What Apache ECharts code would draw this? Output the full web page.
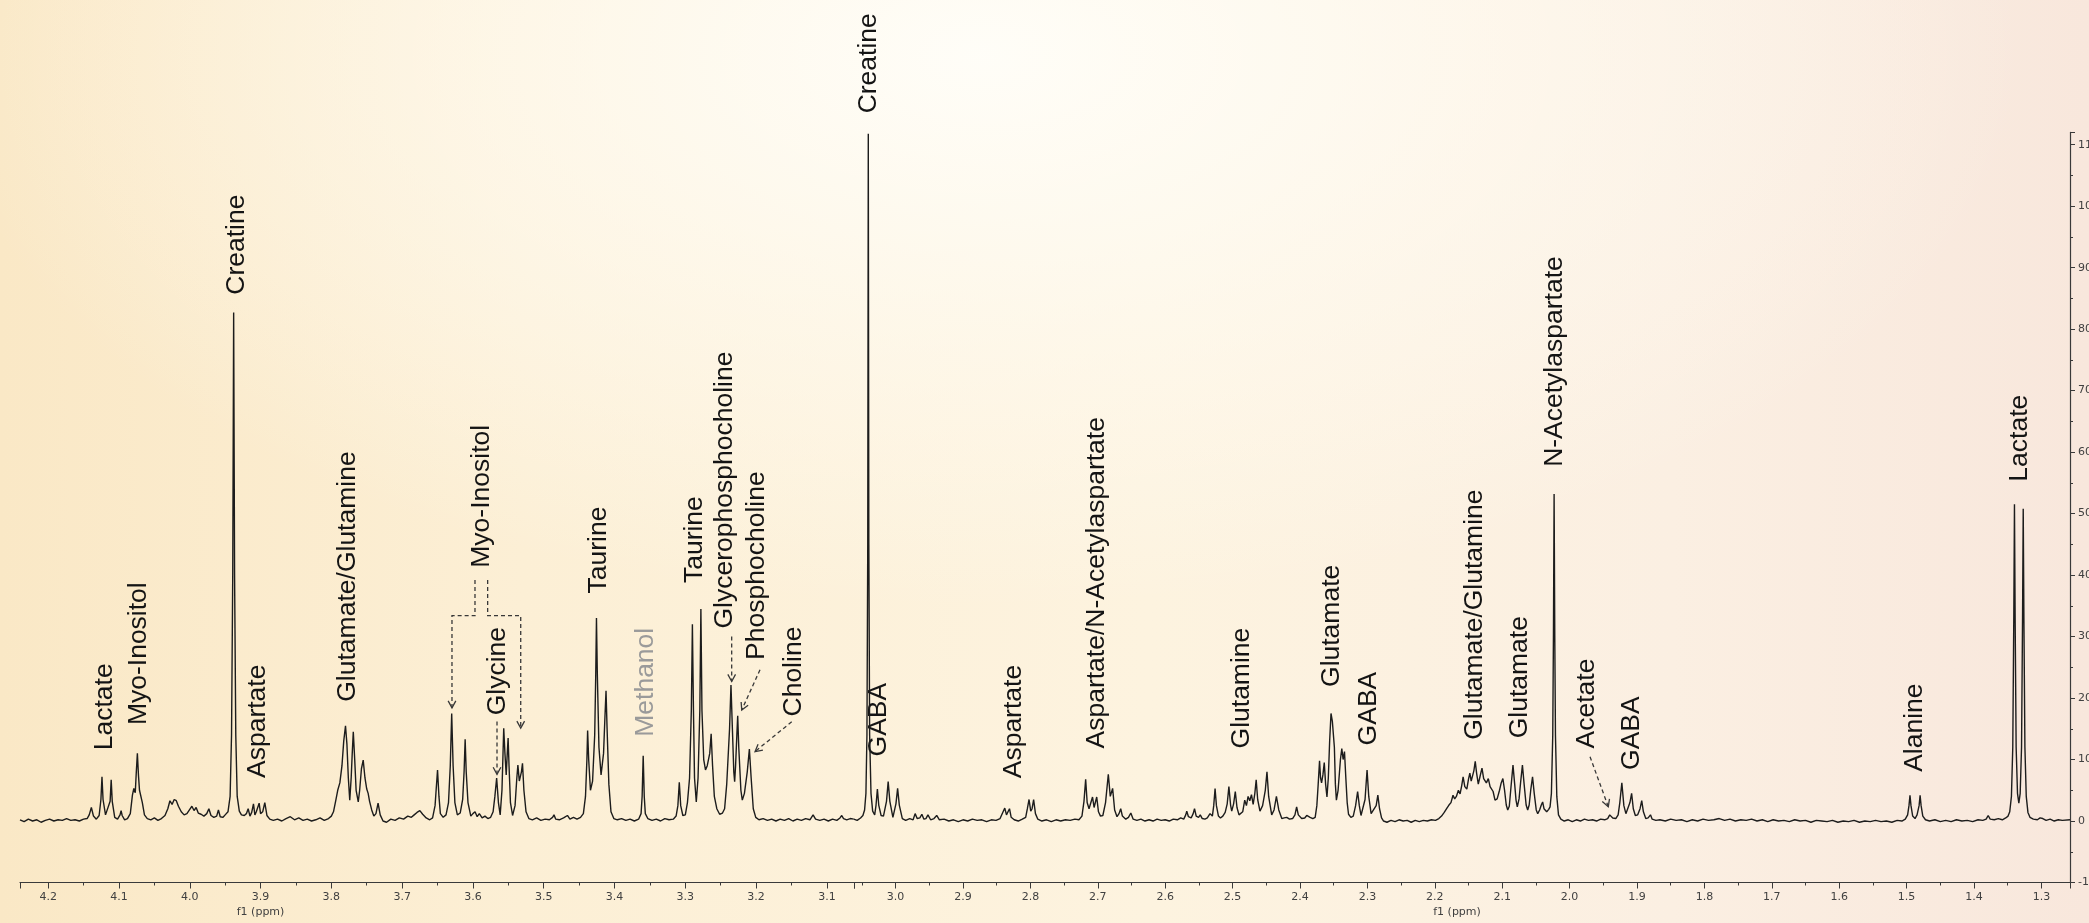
<!DOCTYPE html>
<html>
<head>
<meta charset="utf-8">
<title>1H NMR spectrum</title>
<script src="https://cdn.jsdelivr.net/npm/echarts@6.0.0/dist/echarts.min.js"></script>
<style>
  html, body { margin: 0; padding: 0; }
  body {
    width: 2089px; height: 923px; overflow: hidden;
    background:
      radial-gradient(ellipse 50% 60% at 47% 6%, rgba(255,254,249,0.95) 0%, rgba(255,252,244,0.55) 50%, rgba(255,250,240,0) 100%),
      linear-gradient(90deg, #fae8c6 0%, #fcefd5 25%, #fdf3df 55%, #fbefe2 80%, #f8e7dc 100%);
  }
  #chart { width: 2089px; height: 923px; }
</style>
</head>
<body>
<div id="chart"></div>
<script>
// ---- axes ----------------------------------------------------------------
const STITCH_PPM = 3.062;                 // where the two spectrum panels meet
const leftPpmRange = [3.062, 4.2398];
const rightPpmRange = [1.2576, 3.062];
const intensityRange = [-10, 112];
const intensityStep = 10;
const ppmMajorStep = 0.1;
const ppmMinorStep = 0.05;
const axisTitle = 'f1 (ppm)';
const axisTitlePpm = [3.9, 2.167];

// ---- spectrum, [ppm, intensity] ---------------------------------------------
const spectrumLeft = [
  [4.2398,0.2],[4.234,-0.1],[4.228,0.3],[4.222,0.0],[4.216,0.2],[4.210,-0.2],[4.204,0.1],[4.198,0.3],
  [4.192,0.0],[4.186,0.2],[4.180,0.1],[4.174,0.4],[4.168,0.1],[4.162,0.2],[4.156,0.0],[4.150,0.3],
  [4.145,0.4],[4.142,1.0],[4.139,2.2],[4.136,0.8],[4.132,0.3],[4.128,0.9],[4.1255,3.5],[4.124,7.2],
  [4.1225,3.5],[4.119,1.0],[4.117,0.8],[4.1125,3.2],[4.111,6.7],[4.1095,3.2],[4.106,0.6],[4.102,0.3],
  [4.0985,1.0],[4.097,1.7],[4.0955,0.9],[4.092,0.2],[4.088,0.4],[4.084,1.2],[4.081,4.2],[4.079,5.3],
  [4.077,4.6],[4.0755,8],[4.074,11.0],[4.0725,7.5],[4.071,5.0],[4.069,5.3],[4.067,3.0],[4.064,1.0],
  [4.060,0.4],[4.055,0.2],[4.050,0.5],[4.045,0.1],[4.040,0.4],[4.035,0.9],[4.031,2.0],[4.028,3.3],
  [4.025,2.7],[4.022,3.5],[4.019,3.3],[4.016,2.4],[4.012,1.5],[4.008,1.0],[4.004,1.2],[4.000,1.9],
  [3.997,2.4],[3.994,1.7],[3.991,2.2],[3.988,1.3],[3.984,1.1],[3.980,0.8],[3.976,1.2],[3.973,2.0],
  [3.970,0.9],[3.966,0.6],[3.962,0.8],[3.9595,1.8],[3.957,0.7],[3.953,0.6],[3.950,1.0],[3.946,1.5],
  [3.943,4],[3.941,14],[3.9393,40],[3.938,82.7],[3.9367,40],[3.935,14],[3.933,4],[3.930,1.6],
  [3.927,1.0],[3.923,0.9],[3.920,1.2],[3.9175,2.0],[3.915,0.8],[3.9125,1.4],[3.910,2.8],[3.908,1.0],
  [3.906,1.5],[3.902,2.9],[3.900,1.2],[3.897,1.5],[3.894,3.0],[3.891,0.9],[3.887,0.3],[3.882,0.1],
  [3.876,0.3],[3.870,0.0],[3.864,0.4],[3.858,0.7],[3.852,0.2],[3.846,0.5],[3.840,0.1],[3.834,0.3],
  [3.828,0.0],[3.822,0.2],[3.816,0.5],[3.810,0.1],[3.804,0.4],[3.800,0.8],[3.797,1.5],[3.794,3.2],
  [3.791,5.0],[3.788,6.2],[3.785,9],[3.7825,13],[3.780,15.5],[3.778,12.5],[3.776,7],[3.774,3.4],
  [3.772,7],[3.7705,11],[3.769,14.5],[3.767,10],[3.765,5],[3.762,3.1],[3.760,5],[3.7575,8.5],
  [3.755,9.9],[3.7525,7],[3.750,5.2],[3.748,4.5],[3.746,3.2],[3.743,1.8],[3.740,0.8],[3.737,1.2],
  [3.734,2.9],[3.731,1.0],[3.727,0.0],[3.722,-0.2],[3.716,0.3],[3.710,0.1],[3.704,0.5],[3.698,0.3],
  [3.692,0.8],[3.687,0.6],[3.683,1.0],[3.679,1.4],[3.675,1.7],[3.671,1.1],[3.666,0.5],[3.661,0.2],
  [3.657,0.5],[3.6535,2.5],[3.652,5],[3.650,8.3],[3.648,4],[3.646,1.2],[3.642,0.6],[3.638,1.0],
  [3.6345,3],[3.632,9],[3.630,17.5],[3.628,9],[3.6255,3],[3.622,1.0],[3.618,1.3],[3.6145,3.5],
  [3.6125,8],[3.611,13.3],[3.6095,8],[3.607,3],[3.603,0.8],[3.600,1.2],[3.597,1.5],[3.594,0.7],
  [3.591,1.2],[3.587,0.5],[3.583,0.8],[3.579,0.4],[3.575,0.6],[3.5715,1.5],[3.569,4],[3.5665,7.0],
  [3.564,3],[3.5615,1.0],[3.559,5],[3.5575,11],[3.5565,15.1],[3.5548,11],[3.553,7.5],[3.5515,11],
  [3.5503,13.5],[3.549,9],[3.547,3],[3.544,0.9],[3.5405,2.5],[3.538,7],[3.5365,9.1],[3.5345,6.5],
  [3.533,6.2],[3.5315,8],[3.530,9.4],[3.528,5],[3.525,1.5],[3.521,0.4],[3.516,0.2],[3.510,0.5],
  [3.504,0.1],[3.498,0.3],[3.492,0.2],[3.4875,0.6],[3.4855,1.0],[3.483,0.3],[3.478,0.2],[3.472,0.5],
  [3.4665,0.9],[3.463,0.3],[3.458,0.6],[3.453,0.3],[3.448,0.6],[3.444,1.2],[3.441,4],[3.439,10],
  [3.438,14.7],[3.4365,10],[3.434,5],[3.431,6.5],[3.428,14],[3.4265,24],[3.4255,33.0],[3.4243,24],
  [3.422,12],[3.419,7.5],[3.4155,11],[3.4135,17],[3.412,21.2],[3.4105,15],[3.408,6],[3.405,1.5],
  [3.401,0.4],[3.396,0.2],[3.390,0.4],[3.384,0.1],[3.378,0.3],[3.372,0.0],[3.366,0.3],[3.3625,1.2],
  [3.361,4],[3.3595,10.6],[3.358,4],[3.3565,1.2],[3.353,0.4],[3.347,0.1],[3.341,0.3],[3.335,0.0],
  [3.329,0.4],[3.323,0.2],[3.317,0.3],[3.313,0.8],[3.3105,2.5],[3.3085,6.3],[3.3065,2.5],[3.3035,0.9],
  [3.300,1.0],[3.297,3],[3.294,7],[3.2915,18],[3.290,32.0],[3.2885,18],[3.287,7],[3.2845,3.1],
  [3.282,7],[3.2795,18],[3.278,34.5],[3.2765,18],[3.274,10],[3.2715,8.3],[3.269,9],[3.2655,11],
  [3.2635,14.2],[3.2615,9],[3.259,4],[3.2555,2.0],[3.2515,1.1],[3.2475,1.3],[3.2445,2],[3.2415,6],
  [3.2375,15],[3.2355,22.1],[3.2335,15],[3.2315,8],[3.2303,6.4],[3.229,9],[3.2272,14],[3.226,17.1],
  [3.2245,12],[3.2215,5],[3.2195,3.4],[3.2165,4.5],[3.2125,8],[3.2095,11.7],[3.207,7],[3.204,2],
  [3.2005,0.6],[3.196,0.2],[3.190,0.4],[3.184,0.1],[3.178,0.3],[3.172,0.0],[3.166,0.3],[3.160,0.1],
  [3.154,0.4],[3.148,0.0],[3.142,0.3],[3.136,0.1],[3.130,0.4],[3.124,0.2],[3.1195,1.0],[3.116,0.3],
  [3.110,0.1],[3.104,0.3],[3.098,0.0],[3.092,0.3],[3.086,0.1],[3.0815,0.5],[3.079,0.9],[3.0765,0.4],
  [3.072,0.2],[3.067,0.4],[3.062,0.3]
];

const spectrumRight = [
  [3.062,0.3],[3.057,0.1],[3.052,0.5],[3.0485,0.9],[3.046,1.8],[3.044,4.5],[3.0425,14],[3.0413,45],
  [3.0405,111.8],[3.0397,45],[3.0385,14],[3.0365,4.5],[3.034,1.6],[3.031,1.0],[3.029,2.6],[3.027,5.2],
  [3.025,2.6],[3.0215,0.9],[3.018,0.8],[3.0135,3.2],[3.011,6.4],[3.0085,3.2],[3.004,0.6],[2.9995,2.8],
  [2.997,5.3],[2.9945,2.6],[2.990,0.4],[2.985,0.1],[2.979,0.4],[2.974,0.2],[2.971,1.2],[2.968,0.4],
  [2.964,0.5],[2.961,1.1],[2.958,0.3],[2.955,0.4],[2.952,1.0],[2.948,0.2],[2.943,0.4],[2.939,0.9],
  [2.935,0.2],[2.928,0.3],[2.921,0.0],[2.914,0.2],[2.907,-0.1],[2.900,0.2],[2.893,0.0],[2.886,0.3],
  [2.879,0.1],[2.872,0.2],[2.865,-0.1],[2.858,0.2],[2.851,0.1],[2.845,0.4],[2.8405,1.5],[2.838,2.1],
  [2.8355,1.0],[2.833,1.2],[2.831,2.0],[2.8285,0.6],[2.824,0.2],[2.818,0.0],[2.812,0.3],[2.807,0.6],
  [2.8045,2.0],[2.802,3.5],[2.7995,1.6],[2.7975,2.0],[2.7952,3.5],[2.7925,1.2],[2.789,0.3],[2.783,0.0],
  [2.776,0.2],[2.769,-0.1],[2.762,0.2],[2.755,0.0],[2.748,0.2],[2.741,0.1],[2.734,0.3],[2.728,0.2],
  [2.7235,0.8],[2.7205,3.2],[2.718,6.8],[2.7158,3.0],[2.713,2.0],[2.7105,2.0],[2.7078,3.9],[2.7055,2.2],
  [2.7035,2.4],[2.7016,3.9],[2.699,1.5],[2.696,0.8],[2.6925,0.9],[2.6885,3],[2.6844,7.6],[2.6815,4.0],
  [2.678,5.3],[2.675,1.8],[2.6715,0.7],[2.6685,1.2],[2.666,2.0],[2.6635,0.8],[2.6585,0.3],[2.6545,0.6],
  [2.651,1.3],[2.6475,0.3],[2.642,0.1],[2.636,0.3],[2.630,0.0],[2.624,0.2],[2.618,0.0],[2.612,0.3],
  [2.606,0.1],[2.600,0.2],[2.594,0.0],[2.588,0.3],[2.582,0.2],[2.577,0.5],[2.5725,0.3],[2.5695,1.0],
  [2.568,1.6],[2.5655,0.7],[2.5615,0.5],[2.5585,1.2],[2.5565,2.0],[2.554,0.8],[2.5505,0.6],[2.548,1.0],
  [2.545,0.4],[2.541,0.3],[2.5375,0.5],[2.5335,1.2],[2.530,0.8],[2.528,2.5],[2.526,5.3],[2.524,2.5],
  [2.521,0.8],[2.518,0.5],[2.5145,0.8],[2.511,1.4],[2.508,2.8],[2.5055,5.6],[2.503,2.6],[2.5013,1.6],
  [2.4985,2.8],[2.496,4.8],[2.4935,2.2],[2.4905,1.0],[2.488,0.8],[2.485,1.5],[2.482,3.4],[2.4795,2.5],
  [2.477,4.0],[2.4745,3.3],[2.472,4.3],[2.4695,2.7],[2.467,4.5],[2.465,6.7],[2.4628,3.5],[2.4594,1.6],
  [2.4555,2.5],[2.4515,5],[2.449,8.0],[2.4465,4],[2.442,1.0],[2.4385,1.8],[2.435,4.0],[2.4315,1.8],
  [2.427,0.4],[2.4235,0.5],[2.4197,0.6],[2.4155,0.3],[2.411,0.4],[2.4075,1.0],[2.405,2.3],[2.4025,1.0],
  [2.3975,0.4],[2.393,0.5],[2.390,0.9],[2.388,1.2],[2.385,0.6],[2.381,0.4],[2.3775,0.6],[2.375,2.5],
  [2.373,6],[2.371,9.8],[2.3695,7],[2.368,6.2],[2.366,7.5],[2.364,9.5],[2.362,6],[2.360,3.9],
  [2.358,7],[2.356,13],[2.354,17.5],[2.352,16.2],[2.3505,16.5],[2.349,12],[2.3475,6],[2.346,3.4],
  [2.3435,5],[2.340,10],[2.338,11.8],[2.336,10],[2.334,11.3],[2.332,7],[2.330,3],[2.328,1.1],
  [2.3245,0.6],[2.321,0.8],[2.3175,2.5],[2.3145,4.8],[2.312,2.5],[2.3095,0.9],[2.307,0.9],[2.3035,3.5],
  [2.3005,8.3],[2.298,4],[2.2945,1.2],[2.292,1.1],[2.287,2.5],[2.2845,4.2],[2.282,2],[2.279,0.5],
  [2.276,0.0],[2.271,-0.2],[2.265,0.1],[2.259,-0.1],[2.253,0.2],[2.247,0.0],[2.241,0.1],[2.235,-0.2],
  [2.229,0.1],[2.223,-0.1],[2.217,0.1],[2.211,0.0],[2.205,0.2],[2.199,0.1],[2.194,0.4],[2.190,0.8],
  [2.186,1.4],[2.182,2.1],[2.179,2.6],[2.176,3.0],[2.173,4.2],[2.1705,3.6],[2.168,4.0],[2.165,5.0],
  [2.1625,4.4],[2.160,5.8],[2.158,7.2],[2.1555,5.6],[2.1525,5.2],[2.150,6.8],[2.148,7.8],[2.146,6.5],
  [2.144,6.3],[2.142,8.2],[2.140,9.7],[2.138,7.8],[2.1355,6.0],[2.133,7.2],[2.130,8.6],[2.1275,6.9],
  [2.1255,6.9],[2.1235,6.2],[2.1206,6.9],[2.118,5.6],[2.116,5.9],[2.1135,4.8],[2.1107,3.4],[2.1075,3.6],
  [2.104,5],[2.1015,6.2],[2.099,6.9],[2.0965,5],[2.094,2.6],[2.0918,1.8],[2.0895,2.4],[2.087,5.5],
  [2.084,9.1],[2.0815,6],[2.0795,3.4],[2.0776,2.3],[2.075,3.6],[2.0725,6.5],[2.070,9.1],[2.0675,6],
  [2.0645,2.6],[2.0622,1.8],[2.060,2.6],[2.0575,5.2],[2.055,7.2],[2.0525,4.5],[2.0495,1.8],[2.0473,1.2],
  [2.0445,1.8],[2.042,2.6],[2.040,3.1],[2.038,2.0],[2.034,1.5],[2.031,1.9],[2.029,2.3],[2.027,4.5],
  [2.025,14],[2.024,30],[2.023,53.2],[2.022,30],[2.021,14],[2.019,4],[2.0165,1.0],[2.013,0.3],
  [2.008,0.0],[2.002,0.2],[1.996,-0.1],[1.990,0.2],[1.984,0.0],[1.978,0.3],[1.972,0.1],[1.966,0.2],
  [1.960,0.0],[1.954,0.3],[1.948,0.2],[1.9435,0.4],[1.9405,1.0],[1.9385,1.3],[1.936,0.5],[1.9315,0.4],
  [1.928,1.0],[1.9255,3],[1.9225,6.2],[1.9195,2.5],[1.9165,1.2],[1.914,1.5],[1.9105,3],[1.908,4.5],
  [1.9055,2],[1.9025,0.9],[1.899,1.0],[1.8955,2],[1.893,3.3],[1.8905,1.5],[1.887,0.4],[1.8835,0.5],
  [1.880,1.0],[1.8775,0.3],[1.872,0.1],[1.866,0.2],[1.858,0.0],[1.850,0.3],[1.842,0.1],[1.834,0.2],
  [1.826,-0.1],[1.818,0.2],[1.810,0.0],[1.802,0.3],[1.794,0.1],[1.786,0.2],[1.778,0.4],[1.770,0.1],
  [1.762,0.3],[1.754,0.0],[1.746,0.2],[1.738,0.1],[1.730,0.3],[1.722,0.0],[1.714,0.2],[1.706,-0.1],
  [1.698,0.2],[1.690,0.0],[1.682,0.1],[1.674,-0.1],[1.666,0.2],[1.658,0.0],[1.650,0.1],[1.642,-0.2],
  [1.634,0.1],[1.626,0.0],[1.618,-0.1],[1.610,0.1],[1.602,-0.2],[1.594,0.0],[1.586,-0.1],[1.578,0.1],
  [1.570,-0.2],[1.562,0.0],[1.554,-0.1],[1.546,0.1],[1.538,-0.1],[1.530,0.0],[1.522,-0.2],[1.514,0.1],
  [1.507,0.0],[1.502,0.3],[1.4985,1.0],[1.4965,2.5],[1.495,4.2],[1.4935,2.5],[1.491,0.8],[1.4875,0.4],
  [1.4845,1.0],[1.4815,2.5],[1.480,4.2],[1.4785,2.5],[1.476,0.8],[1.472,0.2],[1.466,0.0],[1.458,0.2],
  [1.450,-0.1],[1.442,0.1],[1.434,-0.1],[1.426,0.2],[1.418,0.0],[1.410,0.1],[1.402,-0.1],[1.394,0.2],
  [1.387,0.1],[1.382,0.3],[1.379,0.9],[1.376,0.3],[1.370,0.2],[1.364,0.4],[1.358,0.2],[1.353,0.5],
  [1.3495,0.8],[1.347,1.5],[1.3445,4],[1.3425,12],[1.341,33],[1.340,51.5],[1.339,33],[1.3375,12],
  [1.3355,4.5],[1.3335,2.9],[1.3315,4.5],[1.3295,12],[1.328,33],[1.327,50.8],[1.326,33],[1.3245,12],
  [1.3225,4],[1.320,1.4],[1.317,0.6],[1.312,0.3],[1.306,0.2],[1.302,0.5],[1.300,0.8],[1.298,0.4],
  [1.293,0.1],[1.287,0.3],[1.281,0.0],[1.275,0.2],[1.269,0.1],[1.2576,0.2]
];

// ---- peak assignments ------------------------------------------------------
const peakNames = [
  'Lactate', 'Myo-Inositol', 'Creatine', 'Aspartate', 'Glutamate/Glutamine', 'Myo-Inositol',
  'Glycine', 'Taurine', 'Methanol', 'Taurine', 'Glycerophosphocholine', 'Phosphocholine',
  'Choline', 'Creatine', 'GABA', 'Aspartate', 'Aspartate/N-Acetylaspartate', 'Glutamine',
  'Glutamate', 'GABA', 'Glutamate/Glutamine', 'Glutamate', 'N-Acetylaspartate', 'Acetate',
  'GABA', 'Alanine', 'Lactate'
];
// chemical shift each name is written at
const peakNamePpm = [
  4.1198, 4.0717, 3.9337, 3.9036, 3.7765, 3.5876, 3.5653, 3.4229, 3.3555, 3.2863, 3.2439, 3.1992,
  3.1474, 3.0405, 3.0255, 2.8254, 2.7016, 2.4865, 2.353, 2.2987, 2.1404, 2.0736, 2.0217, 1.9747,
  1.908, 1.4876, 1.3321
];
// intensity level where each name starts
const peakNameLevel = [
  11.5, 15.6, 85.6, 7.0, 19.4, 41.2, 17.2, 37.0, 13.7, 38.7, 31.3, 26.2,
  17.0, 115.1, 10.5, 6.95, 11.8, 11.8, 21.8, 12.3, 13.2, 13.45, 57.6, 11.8,
  8.3, 8.0, 55.2
];
const mutedNames = ['Methanol'];

// dashed leader lines from a name to its peak, [ppm, intensity] vertices
const leaderLines = [
  [[3.5971, 39.2], [3.5971, 33.4], [3.6296, 33.4], [3.6296, 18.4]],
  [[3.5792, 39.2], [3.5792, 33.4], [3.5325, 33.4], [3.5325, 15.1]],
  [[3.566, 16.2], [3.566, 7.6]],
  [[3.2345, 30.0], [3.2345, 22.7]],
  [[3.1945, 24.6], [3.2203, 18.05]],
  [[3.1497, 16.15], [3.2015, 11.3]],
  [[1.9697, 10.46], [1.9426, 2.33]]
];

// ---- chart -------------------------------------------------------------------
const FONT_AXIS = '"DejaVu Sans", Verdana, sans-serif';
const FONT_LABEL = '"Liberation Sans", Arial, Helvetica, sans-serif';
const AXIS_COLOR = '#3a3a3a';
const TEXT_COLOR = '#141414';
const LINE_COLOR = '#1c1c1c';

const isMultiple = (v, step) => Math.abs(v / step - Math.round(v / step)) < 1e-6;

const gridTop = 132.4, gridBottom = 40.5, stitchX = 853.8;

function ppmAxis(gridIndex, range, step, major) {
  return {
    type: 'value', gridIndex, position: 'bottom', inverse: true,
    min: range[0], max: range[1],
    minInterval: step, maxInterval: step,
    splitNumber: Math.round((range[1] - range[0]) / step),
    axisLine: { show: major, onZero: false, lineStyle: { color: AXIS_COLOR, width: 1.2 } },
    axisTick: { show: true, length: major ? 6 : 3, lineStyle: { color: AXIS_COLOR, width: 1 } },
    axisLabel: major ? {
      show: true, margin: 9, fontFamily: FONT_AXIS, fontSize: 11, color: '#404040',
      showMinLabel: true, showMaxLabel: true,
      formatter: v => (isMultiple(v, ppmMajorStep) ? v.toFixed(1) : '')
    } : { show: false },
    splitLine: { show: false }
  };
}

const chart = echarts.init(document.getElementById('chart'), null, { renderer: 'canvas' });

chart.setOption({
  animation: false,
  backgroundColor: 'transparent',
  grid: [
    { left: 20, right: 2089 - stitchX, top: gridTop, bottom: gridBottom, containLabel: false, outerBoundsMode: 'none' },
    { left: stitchX, right: 19, top: gridTop, bottom: gridBottom, containLabel: false, outerBoundsMode: 'none' }
  ],
  xAxis: [
    ppmAxis(0, leftPpmRange, ppmMajorStep, true),
    ppmAxis(1, rightPpmRange, ppmMajorStep, true),
    ppmAxis(0, leftPpmRange, ppmMinorStep, false),
    ppmAxis(1, rightPpmRange, ppmMinorStep, false)
  ],
  yAxis: [
    { type: 'value', gridIndex: 0, min: intensityRange[0], max: intensityRange[1], interval: intensityStep, show: false },
    {
      type: 'value', gridIndex: 1, position: 'right',
      min: intensityRange[0], max: intensityRange[1], interval: intensityStep,
      axisLine: { show: true, onZero: false, lineStyle: { color: AXIS_COLOR, width: 1.2 } },
      axisTick: { show: true, length: 5, lineStyle: { color: AXIS_COLOR } },
      minorTick: { show: true, splitNumber: 2, length: 3, lineStyle: { color: AXIS_COLOR } },
      axisLabel: {
        margin: 8, fontFamily: FONT_AXIS, fontSize: 11, color: '#404040',
        formatter: v => (isMultiple(v, intensityStep) ? String(Math.round(v)) : '')
      },
      splitLine: { show: false }, minorSplitLine: { show: false }
    }
  ],
  series: [
    {
      type: 'line', xAxisIndex: 0, yAxisIndex: 0, data: spectrumLeft,
      showSymbol: false, symbol: 'none', silent: true, clip: true,
      lineStyle: { color: LINE_COLOR, width: 1.4 }
    },
    {
      type: 'line', xAxisIndex: 1, yAxisIndex: 1, data: spectrumRight,
      showSymbol: false, symbol: 'none', silent: true, clip: true,
      lineStyle: { color: LINE_COLOR, width: 1.4 }
    }
  ]
});

// data -> pixel through the panel's own axes
const toPx = (ppm, v, panel) => chart.convertToPixel({ seriesIndex: panel }, [ppm, v]);
const panelOf = ppm => (ppm >= STITCH_PPM ? 0 : 1);

const graphics = [];

peakNames.forEach((name, i) => {
  const [x, y] = toPx(peakNamePpm[i], peakNameLevel[i], panelOf(peakNamePpm[i]));
  graphics.push({
    type: 'text', x, y, rotation: Math.PI / 2, silent: true,
    style: {
      text: name, fontFamily: FONT_LABEL, fontSize: 26.5,
      fill: mutedNames.includes(name) ? '#9a9a9a' : TEXT_COLOR,
      align: 'left', verticalAlign: 'middle'
    }
  });
});

leaderLines.forEach(path => {
  const panel = panelOf(path[0][0]);
  const pts = path.map(p => toPx(p[0], p[1], panel));
  graphics.push({
    type: 'polyline', silent: true, shape: { points: pts },
    style: { stroke: '#383838', lineWidth: 1.3, lineDash: [4, 3], fill: null }
  });
  const tip = pts[pts.length - 1], prev = pts[pts.length - 2];
  const ang = Math.atan2(tip[1] - prev[1], tip[0] - prev[0]);
  const len = 8, spread = 0.5;
  const a1 = [tip[0] - len * Math.cos(ang - spread), tip[1] - len * Math.sin(ang - spread)];
  const a2 = [tip[0] - len * Math.cos(ang + spread), tip[1] - len * Math.sin(ang + spread)];
  graphics.push({
    type: 'polyline', silent: true, shape: { points: [a1, tip, a2] },
    style: { stroke: '#383838', lineWidth: 1.3, fill: null }
  });
});

axisTitlePpm.forEach(ppm => {
  const [x] = toPx(ppm, 0, panelOf(ppm));
  graphics.push({
    type: 'text', x, y: 912, silent: true,
    style: { text: axisTitle, fontFamily: FONT_AXIS, fontSize: 11, fill: '#404040', align: 'center', verticalAlign: 'middle' }
  });
});

chart.setOption({ graphic: graphics });
</script>
</body>
</html>
